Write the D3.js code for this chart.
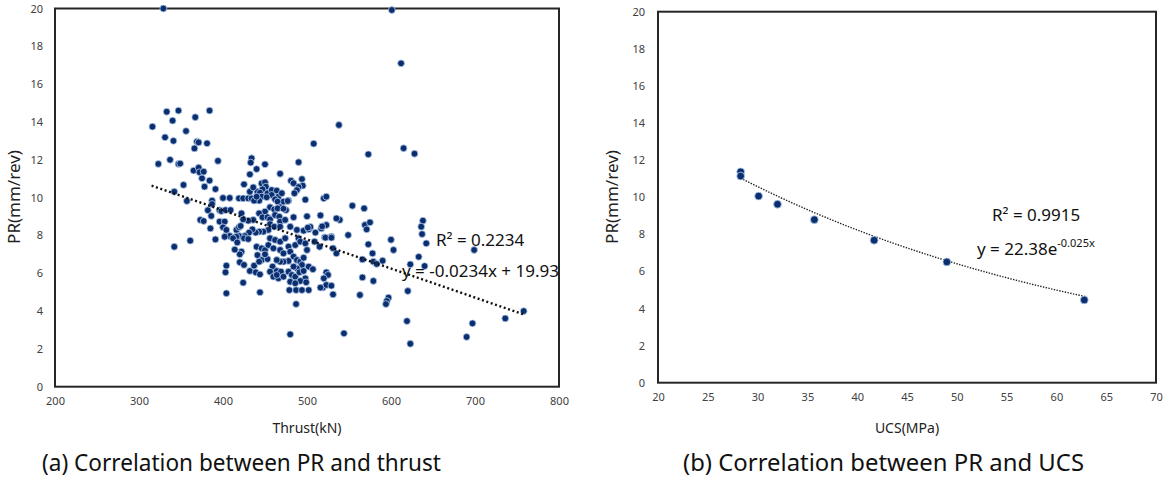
<!DOCTYPE html>
<html>
<head>
<meta charset="utf-8">
<script src="https://cdn.jsdelivr.net/npm/d3@7"></script>
<style>
  body { margin: 0; background: #fff; }
  svg text { font-family: "Noto Sans", "Open Sans", sans-serif; }
</style>
</head>
<body>
<script>
// (a) PR vs thrust
var thrust = [329,316,333,347,340,331,341,323,337,347,342,384,367,342,
  356,369,371,366,381,394,349,365,371,372,377,375,384,378,353,391,
  357,387,387,382,396,398,403,409,400,408,
  373,377,386,385,396,402,400,404,416,408,419,422,419,424,430,434,432,441,425,
  434,433,440,450,432,436,
  446,450,451,447,444,453,458,464,458,466,462,470,472,465,468,478,446,452,443,437,440,
  456,461,465,450,443,447,453,456,462,467,468,475,456,461,468,474,484,480,454,448,443,439,435,431,426,419,436,430,424,421,416,412,
  488,496,502,510,517,523,529,521,539,535,
  508,490,468,481,484,494,495,490,488,485,498,520,523,477,500,516,518,504,501,472,
  361,391,402,425,430,417,414,422,420,
  404,403,420,425,432,437,439,444,424,404,444,
  440,446,441,450,454,446,453,443,450,
  456,462,468,474,460,468,472,478,480,486,490,492,498,500,484,488,492,496,494,488,484,478,472,468,464,459,464,469,456,460,466,464,472,478,482,480,486,491,496,502,507,498,492,499,486,479,487,494,502,487,
  480,522,529,531,535,523,525,520,519,523,529,531,516,544,515,509,
  601,612,538,554,568,573,615,628,
  569,575,571,549,573,578,579,583,590,566,600,603,638,636,637,642,633,623,640,566,579,620,563,597,595,594,699,619,697,690,736,758,623];
var prA = [20.0,13.75,14.54,14.6,14.07,13.19,13.0,11.78,12.0,11.78,10.31,14.6,14.25,7.4,
  13.52,12.96,12.92,12.6,12.87,11.94,11.8,11.43,11.58,11.34,11.37,11.02,10.9,10.58,10.67,10.45,
  9.82,9.84,9.66,9.33,9.33,9.29,9.34,9.34,9.98,9.98,
  8.82,8.76,9.03,8.37,8.73,8.73,8.43,8.29,8.29,7.97,8.43,9.17,9.96,9.96,9.96,9.96,10.31,10.31,10.7,
  12.08,11.85,11.51,11.76,11.23,10.54,
  10.75,10.81,10.58,10.44,10.26,10.23,10.4,10.37,10.14,10.05,9.91,10.23,9.79,9.79,9.49,9.84,10.05,10.02,9.84,9.84,10.05,
  9.49,9.38,9.43,9.26,9.17,8.96,8.96,8.85,9.08,8.99,8.73,9.34,8.6,8.46,8.46,8.82,8.96,8.46,8.29,8.2,8.2,8.15,8.32,8.15,7.97,7.97,8.82,8.78,8.85,8.5,7.93,7.85,
  8.29,8.25,8.32,8.15,8.37,8.55,7.93,7.9,8.82,8.9,
  12.85,11.87,11.26,10.89,10.76,10.98,10.63,10.56,10.4,10.23,9.89,9.96,10.05,9.82,9.01,9.06,8.48,8.45,8.41,9.41,
  7.72,7.79,7.93,7.85,7.81,7.63,7.25,7.14,7.0,
  6.4,6.05,6.58,6.44,6.12,6.4,6.05,5.94,5.5,4.94,4.99,
  7.4,7.32,6.96,7.23,7.49,6.7,6.75,6.61,7.0,
  7.85,7.76,7.67,7.85,7.32,7.23,7.05,7.41,7.14,7.49,7.85,7.67,7.58,7.23,6.88,6.7,6.61,6.82,6.44,6.26,6.35,6.65,6.61,6.61,6.7,6.35,6.12,6.08,6.08,5.82,5.73,5.91,5.82,6.08,5.91,5.55,5.82,6.05,6.12,6.35,6.21,5.73,5.59,5.52,5.47,5.11,5.11,5.11,5.11,4.37,
  2.77,7.88,7.88,7.32,7.05,6.05,5.91,5.73,5.24,5.38,5.34,4.88,5.24,2.82,7.4,7.67,
  19.92,17.1,13.84,9.57,9.43,12.29,12.61,12.32,
  8.55,8.69,8.32,8.02,7.53,7.05,6.61,6.49,6.66,6.73,7.77,7.23,8.78,8.46,8.07,7.58,6.87,6.47,6.38,5.78,5.59,5.06,4.85,4.71,4.53,4.37,7.23,3.47,3.35,2.63,3.61,4.0,2.27];
// dotted trend line as drawn
var trendAx = [315, 760];
var trendAy = [10.63, 3.79];

// (b) PR vs UCS
var ucs = [28.3, 28.3, 30.1, 32.0, 35.7, 41.7, 49.0, 62.8];
var prB = [11.37, 11.14, 10.06, 9.62, 8.79, 7.68, 6.51, 4.46];
var expA = 22.38, expB = -0.025;

var xTicksA = [200, 300, 400, 500, 600, 700, 800];
var xTicksB = [20, 25, 30, 35, 40, 45, 50, 55, 60, 65, 70];
var yTicks = [0, 2, 4, 6, 8, 10, 12, 14, 16, 18, 20];

var dotFill = "#0b2f6e", dotStroke = "#b6cdef";

function init() {
  var svg = d3.select("body").append("svg")
    .attr("width", 1172).attr("height", 479);

  // ---------- panel a ----------
  var xa = d3.scaleLinear().domain([200, 800]).range([55, 559]);
  var ya = d3.scaleLinear().domain([0, 20]).range([386.7, 8.5]);
  drawAxes(svg, xa, ya, xTicksA, 11, 12);

  var ptsA = thrust.map(function(t, i) { return [t, prA[i]]; });
  svg.append("g").selectAll("circle")
    .data(ptsA).enter().append("circle")
    .attr("cx", function(d) { return xa(d[0]); })
    .attr("cy", function(d) { return ya(d[1]); })
    .attr("r", 3.4)
    .attr("fill", dotFill)
    .attr("stroke", dotStroke)
    .attr("stroke-width", 0.8);

  svg.append("line")
    .attr("x1", xa(trendAx[0])).attr("y1", ya(trendAy[0]))
    .attr("x2", xa(trendAx[1])).attr("y2", ya(trendAy[1]))
    .attr("stroke", "#111").attr("stroke-width", 2.4)
    .attr("stroke-dasharray", "2,2.6");

  svg.append("text").attr("x", 436).attr("y", 246)
    .attr("font-size", 17).attr("fill", "#111")
    .text("R² = 0.2234");
  svg.append("text").attr("x", 402).attr("y", 277)
    .attr("font-size", 17).attr("fill", "#111")
    .text("y = -0.0234x + 19.93");

  yTitle(svg, 20, 197);
  svg.append("text").attr("x", 307).attr("y", 433)
    .attr("text-anchor", "middle").attr("font-size", 14).attr("fill", "#222")
    .text("Thrust(kN)");
  caption(svg, 42, 399, "(a) Correlation between PR and thrust");

  // ---------- panel b ----------
  var xb = d3.scaleLinear().domain([20, 70]).range([658, 1156]);
  var yb = d3.scaleLinear().domain([0, 20]).range([382.7, 11.7]);
  drawAxes(svg, xb, yb, xTicksB, 11, 13);

  var fitX = d3.range(28.3, 62.9, 0.5).concat([62.9]);
  var fit = d3.line()
    .x(function(d) { return xb(d); })
    .y(function(d) { return yb(expA * Math.exp(expB * d)); });
  svg.append("path").datum(fitX)
    .attr("d", fit).attr("fill", "none")
    .attr("stroke", "#222").attr("stroke-width", 1.4)
    .attr("stroke-dasharray", "1.4,1.4");

  var ptsB = ucs.map(function(u, i) { return [u, prB[i]]; });
  svg.append("g").selectAll("circle")
    .data(ptsB).enter().append("circle")
    .attr("cx", function(d) { return xb(d[0]); })
    .attr("cy", function(d) { return yb(d[1]); })
    .attr("r", 3.9)
    .attr("fill", dotFill)
    .attr("stroke", dotStroke)
    .attr("stroke-width", 0.8);

  svg.append("text").attr("x", 992).attr("y", 221)
    .attr("font-size", 17).attr("fill", "#111")
    .text("R² = 0.9915");
  var eq = svg.append("text").attr("x", 977).attr("y", 255)
    .attr("font-size", 17).attr("fill", "#111");
  eq.append("tspan").text("y = 22.38e");
  eq.append("tspan").attr("dy", -8).attr("font-size", 11).text("-0.025x");

  yTitle(svg, 618, 197);
  svg.append("text").attr("x", 907).attr("y", 433)
    .attr("text-anchor", "middle").attr("font-size", 14).attr("fill", "#222")
    .text("UCS(MPa)");
  caption(svg, 683, 401, "(b) Correlation between PR and UCS");
}

function caption(svg, x, w, txt) {
  svg.append("text").attr("x", x).attr("y", 471)
    .attr("font-size", 23).attr("fill", "#111")
    .attr("textLength", w).attr("lengthAdjust", "spacingAndGlyphs")
    .text(txt);
}

function drawAxes(svg, x, y, xTicks, fs, ypad) {
  var gx = svg.append("g")
    .attr("transform", "translate(0," + y.range()[0] + ")")
    .call(d3.axisBottom(x).tickValues(xTicks).tickSize(0).tickPadding(11));
  var gy = svg.append("g")
    .attr("transform", "translate(" + x.range()[0] + ",0)")
    .call(d3.axisLeft(y).tickValues(yTicks).tickSize(0).tickPadding(ypad));
  [gx, gy].forEach(function(g) {
    g.select(".domain").remove();
    g.selectAll("text").attr("font-size", fs).attr("fill", "#404040")
      .style("font-family", "'Noto Sans', 'Open Sans', sans-serif");
  });
  svg.append("rect")
    .attr("x", x.range()[0]).attr("y", y.range()[1])
    .attr("width", x.range()[1] - x.range()[0])
    .attr("height", y.range()[0] - y.range()[1])
    .attr("fill", "none").attr("stroke", "#262626").attr("stroke-width", 2);
}

function yTitle(svg, x, y) {
  svg.append("text")
    .attr("transform", "translate(" + x + "," + y + ") rotate(-90)")
    .attr("text-anchor", "middle").attr("font-size", 17).attr("fill", "#222")
    .text("PR(mm/rev)");
}

window.onload = init;
</script>
</body>
</html>
